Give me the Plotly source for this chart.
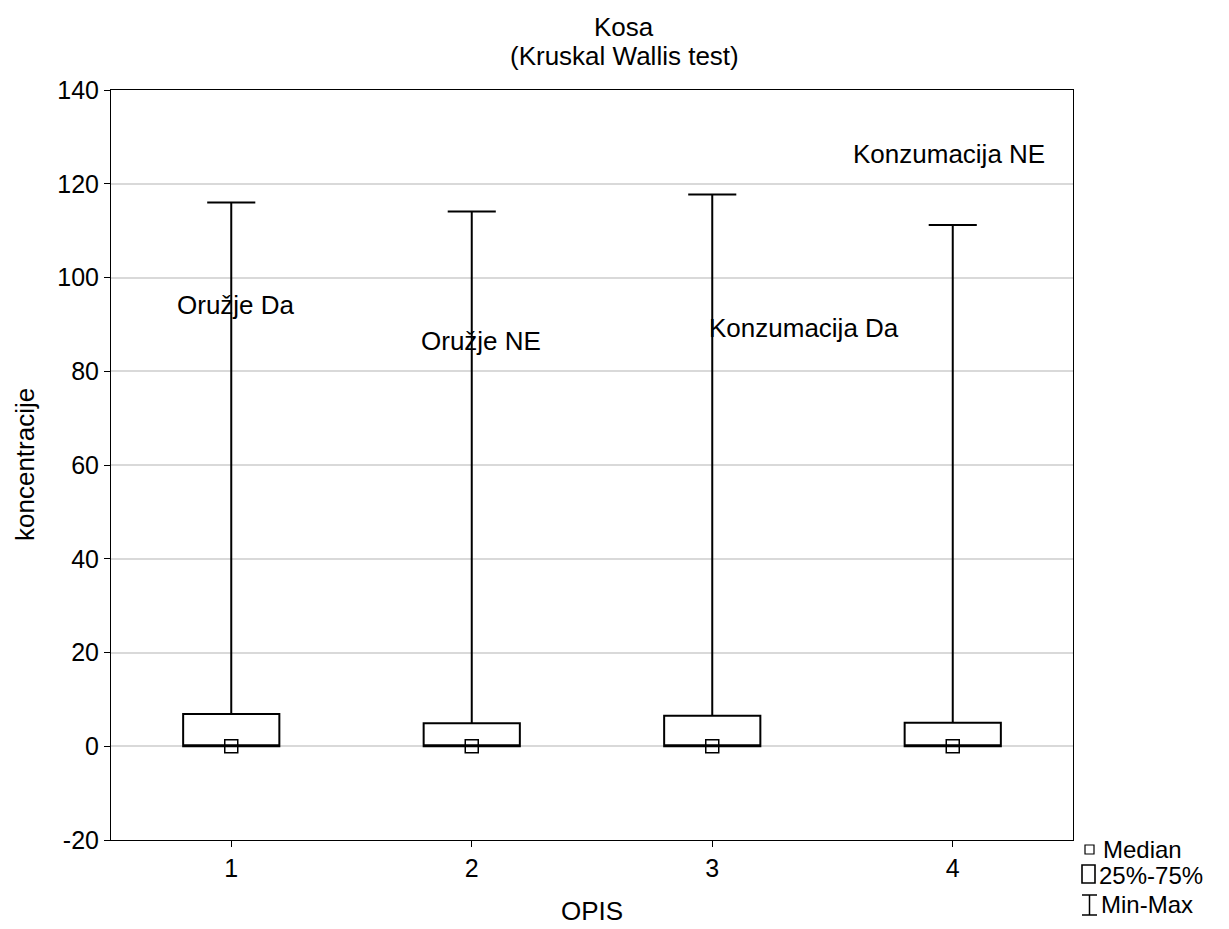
import plotly.graph_objects as go

# ---- data ----
categories = [1, 2, 3, 4]
q1_vals = [0.0, 0.0, 0.0, 0.0]
median_vals = [0.0, 0.0, 0.0, 0.0]
q3_vals = [6.9, 4.9, 6.5, 5.0]
min_vals = [0.0, 0.0, 0.0, 0.0]
max_vals = [116.0, 114.1, 117.7, 111.2]
label_texts = ["Oružje Da", "Oružje NE", "Konzumacija Da", "Konzumacija NE"]
label_x = [0.766, 1.78, 2.98, 3.575]
label_y = [94.1, 86.4, 89.2, 126.3]
y_ticks = [-20, 0, 20, 40, 60, 80, 100, 120, 140]
y_tick_labels = ["-20", "0", "20", "40", "60", "80", "100", "120", "140"]
title_lines = ["Kosa", "(Kruskal Wallis test)"]
legend_texts = ["Median", "25%-75%", "Min-Max"]

# page has an 8px body margin -> shift everything by 8px
OFF = 8
PW, PH = 1229, 929
L, R, T, B = 111, 156, 90, 89        # desired page-pixel plot box edges
W, H = PW - OFF, PH - OFF
FONT = "Liberation Sans, Arial, sans-serif"
FS = 26

plot_w = PW - L - R
plot_h = PH - T - B


def px(x):
    return (x - L) / plot_w


def py(y):
    return (PH - B - y) / plot_h


fig = go.Figure()
fig.add_trace(go.Box(
    x=categories, q1=q1_vals, median=median_vals, q3=q3_vals,
    lowerfence=min_vals, upperfence=max_vals, orientation="v",
    width=0.4, whiskerwidth=0.5, fillcolor="white",
    line=dict(color="black", width=2), boxpoints=False,
    hoverinfo="skip", showlegend=False))
fig.add_trace(go.Scatter(
    x=categories, y=median_vals, mode="markers",
    marker=dict(symbol="square-open", size=13, color="black", line=dict(width=1.5)),
    hoverinfo="skip", showlegend=False))

for t, xv, yv in zip(label_texts, label_x, label_y):
    fig.add_annotation(x=xv, y=yv, text=t, showarrow=False, xanchor="left",
                       yanchor="middle", font=dict(size=FS, color="black", family=FONT))

# title (two lines, tight spacing)
for t, yy in zip(title_lines, [27, 56]):
    fig.add_annotation(xref="paper", yref="paper", x=px(624), y=py(yy), text=t,
                       showarrow=False, xanchor="center", yanchor="middle",
                       font=dict(size=FS, color="black", family=FONT))

# legend (drawn in paper coordinates)
shapes = [
    dict(type="rect", xref="paper", yref="paper", x0=px(1085), x1=px(1094),
         y0=py(854), y1=py(845), line=dict(color="black", width=1.2)),
    dict(type="rect", xref="paper", yref="paper", x0=px(1082), x1=px(1095),
         y0=py(883), y1=py(865), line=dict(color="black", width=1.6)),
    dict(type="line", xref="paper", yref="paper", x0=px(1089.5), x1=px(1089.5),
         y0=py(915), y1=py(895), line=dict(color="black", width=1.5)),
    dict(type="line", xref="paper", yref="paper", x0=px(1082), x1=px(1097),
         y0=py(895), y1=py(895), line=dict(color="black", width=1.5)),
    dict(type="line", xref="paper", yref="paper", x0=px(1082), x1=px(1097),
         y0=py(915), y1=py(915), line=dict(color="black", width=1.5)),
]
fig.update_layout(shapes=shapes)
for t, xx, yy in zip(legend_texts, [1102, 1098, 1100], [849, 875, 904]):
    fig.add_annotation(xref="paper", yref="paper", x=px(xx), y=py(yy), text=t,
                       showarrow=False, xanchor="left", yanchor="middle", borderpad=0,
                       font=dict(size=24, color="black", family=FONT))

# axis titles
fig.add_annotation(xref="paper", yref="paper", x=px(25), y=py(465), text="koncentracije",
                   textangle=-90, showarrow=False, xanchor="center", yanchor="middle",
                   font=dict(size=FS, color="black", family=FONT))
fig.add_annotation(xref="paper", yref="paper", x=px(592), y=py(911), text="OPIS",
                   showarrow=False, xanchor="center", yanchor="middle",
                   font=dict(size=FS, color="black", family=FONT))

fig.update_layout(
    width=W, height=H,
    margin=dict(l=L - OFF, r=R, t=T - OFF, b=B),
    paper_bgcolor="white", plot_bgcolor="white",
    font=dict(family=FONT, size=FS - 1, color="black"),
    showlegend=False,
)
fig.update_xaxes(
    range=[0.5, 4.5], tickvals=categories, ticktext=[str(c) for c in categories],
    showgrid=False, zeroline=False, showline=True, linecolor="black", linewidth=1,
    mirror=True, ticks="outside", ticklen=6, tickcolor="black")
fig.update_yaxes(
    range=[-20, 140], tickvals=y_ticks, ticktext=y_tick_labels,
    showgrid=True, gridcolor="#d9d9d9", gridwidth=1.5,
    zeroline=False, showline=True, linecolor="black", linewidth=1,
    mirror=True, ticks="outside", ticklen=6, tickcolor="black")

fig.write_html("out.html")
